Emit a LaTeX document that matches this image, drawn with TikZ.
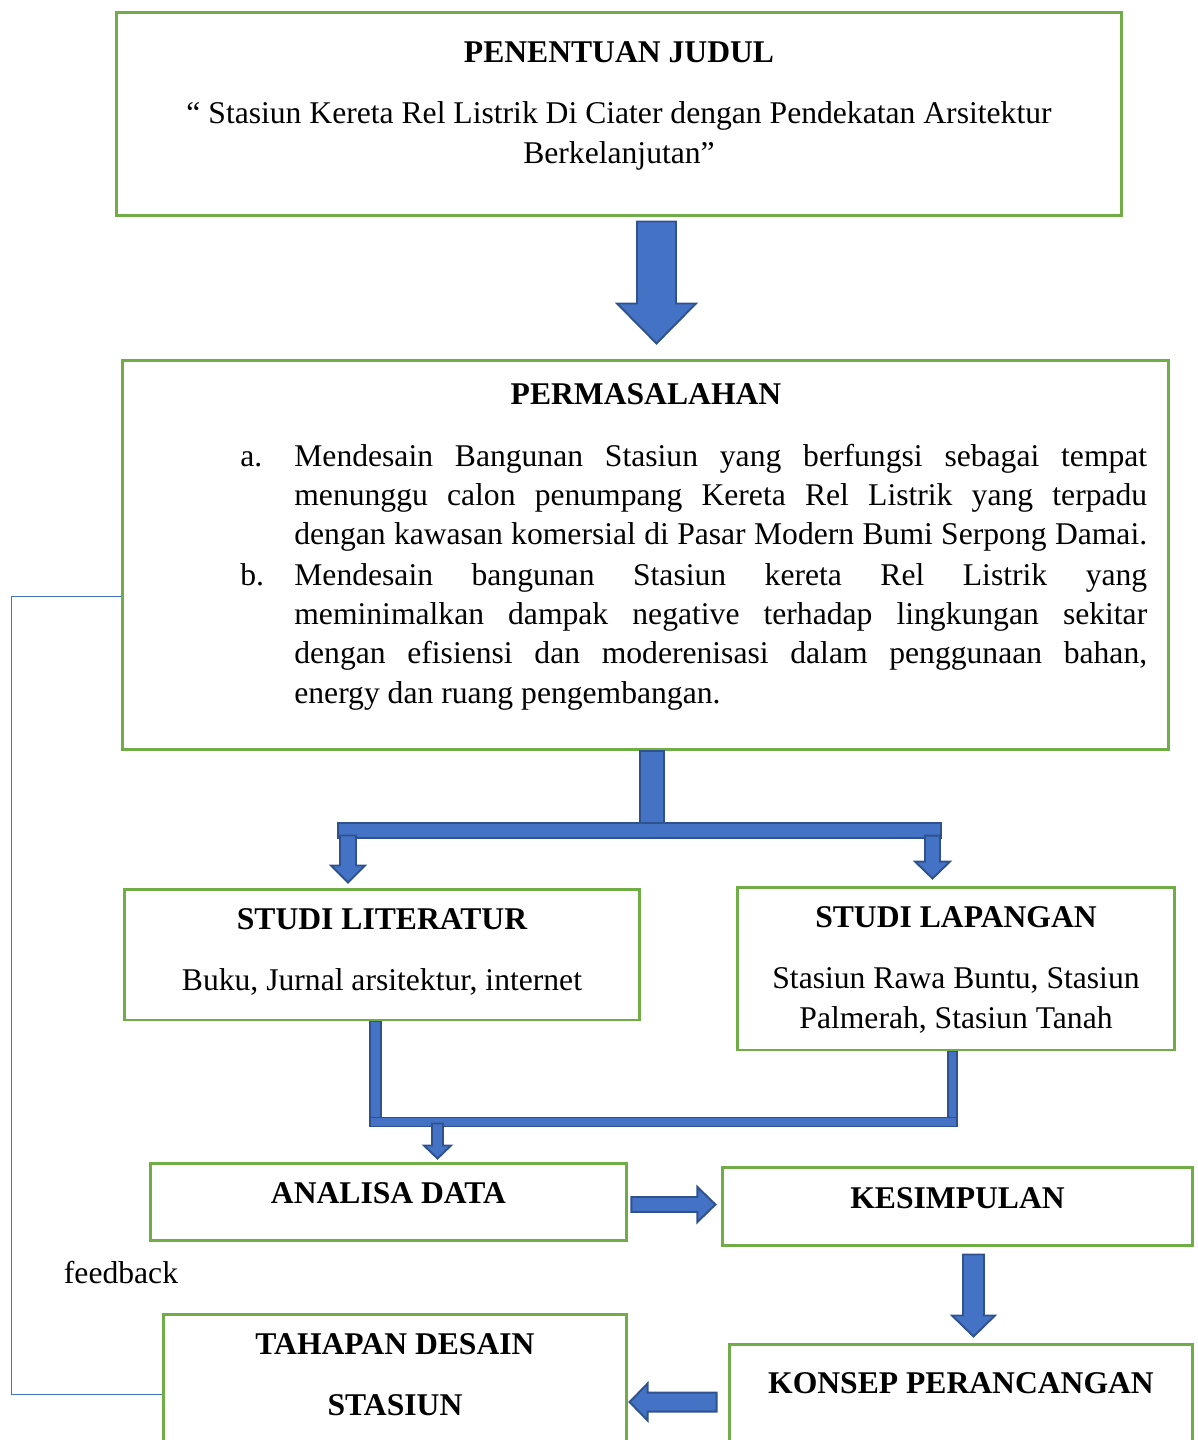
\documentclass[tikz,border=0pt]{standalone}
\usepackage{fontspec}
\setmainfont{Liberation Serif}
\usetikzlibrary{calc}

\definecolor{boxgreen}{HTML}{70AD47}
\definecolor{arrowblue}{HTML}{4472C4}
\definecolor{arrowedge}{HTML}{2F528F}

\tikzset{
  box/.style={draw=boxgreen, line width=1.7pt, rectangle, inner sep=0pt},
  heading/.style={font=\fontsize{18}{22.4}\selectfont\bfseries, inner sep=0pt},
  body/.style={font=\fontsize{18}{22.4}\selectfont, inner sep=0pt},
  blockarrow/.style={fill=arrowblue, draw=arrowedge, line width=1.1pt},
  feedbackline/.style={draw=arrowblue, line width=0.8pt}
}

\begin{document}
\begin{tikzpicture}[x=0.02cm, y=-0.02cm]
	    \useasboundingbox (0,0) rectangle (1197,1440);

	    % The boxes of the flow
	    \node [box, minimum width=20.12cm, minimum height=4.08cm] (judul) at (619,114) {};
	    \node [box, minimum width=20.94cm, minimum height=7.8cm] (masalah) at (645.5,555) {};
	    \node [box, minimum width=10.32cm, minimum height=2.62cm] (literatur) at (382,954.5) {};
	    \node [box, minimum width=8.76cm, minimum height=3.26cm] (lapangan) at (956,968.5) {};
	    \node [box, minimum width=9.54cm, minimum height=1.54cm] (analisa) at (388.5,1201.5) {};
	    \node [box, minimum width=9.42cm, minimum height=1.56cm] (kesimpulan) at (957.5,1206) {};
	    \node [box, minimum width=9.28cm, minimum height=3.92cm] (konsep) at (961,1442) {};
	    \node [box, minimum width=9.28cm, minimum height=3.92cm] (tahapan) at (395,1412) {};

	    % Texts inside the boxes (base of a two line text is its last line)
	    \node [heading, anchor=base] (judul title) at (619,62) {PENENTUAN JUDUL};
	    \node [body, anchor=base, align=center] (judul text) at (619,163)
		{“ Stasiun Kereta Rel Listrik Di Ciater dengan Pendekatan Arsitektur\\Berkelanjutan”};

	    \node [heading, anchor=base] (masalah title) at (646,404) {PERMASALAHAN};
	    \node [body, anchor=base west] (item a) at (240,466) {a.};
	    \node [body, anchor=base west, text width=17.06cm, align=justify] (text a) at (294,466)
		{\parfillskip=0pt Mendesain Bangunan Stasiun yang berfungsi sebagai tempat\linebreak
		menunggu calon penumpang Kereta Rel Listrik yang terpadu\linebreak
		dengan kawasan komersial di Pasar Modern Bumi Serpong Damai.\par};
	    \node [body, anchor=base west] (item b) at (240,585) {b.};
	    \node [body, anchor=base west, text width=17.06cm, align=justify] (text b) at (294,585)
		{Mendesain bangunan Stasiun kereta Rel Listrik yang\linebreak
		meminimalkan dampak negative terhadap lingkungan sekitar\linebreak
		dengan efisiensi dan moderenisasi dalam penggunaan bahan,\linebreak
		energy dan ruang pengembangan.};

	    \node [heading, anchor=base] (literatur title) at (382,929) {STUDI LITERATUR};
	    \node [body, anchor=base] (literatur text) at (382,990) {Buku, Jurnal arsitektur, internet};

	    \node [heading, anchor=base] (lapangan title) at (956,927) {STUDI LAPANGAN};
	    \node [body, anchor=base, align=center] (lapangan text) at (956,1028)
		{Stasiun Rawa Buntu, Stasiun\\Palmerah, Stasiun Tanah};

	    \node [heading, anchor=base] (analisa text) at (388.5,1203) {ANALISA DATA};
	    \node [heading, anchor=base] (kesimpulan text) at (957.5,1208) {KESIMPULAN};
	    \node [heading, anchor=base] (konsep text) at (961,1393) {KONSEP PERANCANGAN};
	    \node [heading, anchor=base, align=center] (tahapan text) at (395,1415)
		{TAHAPAN DESAIN\\[12.2pt]STASIUN};

	    % Big arrow from the title to the problems
	    \draw [blockarrow] ($(judul.south)+(18,4)$) -- ++(39,0) -- ++(0,82) -- ++(20,0)
		-- ++(-39.5,40) -- ++(-39.5,-40) -- ++(20,0) -- cycle;

	    % Split into the two studies
	    \draw [blockarrow] ($(masalah.south)+(-5.5,0)$) rectangle ++(24,72);
	    \draw [blockarrow] ($(masalah.south)+(-307.5,72)$) rectangle ++(603,15);
	    \draw [blockarrow] ($(literatur.north)+(-42,-52)$) -- ++(16,0) -- ++(0,30) -- ++(9,0)
		-- ++(-17,17) -- ++(-17,-17) -- ++(9,0) -- cycle;
	    \draw [blockarrow] ($(lapangan.north)+(-31,-50)$) -- ++(15,0) -- ++(0,26) -- ++(10,0)
		-- ++(-17.5,17) -- ++(-17.5,-17) -- ++(10,0) -- cycle;

	    % Join the two studies again
	    \draw [blockarrow] ($(literatur.south)+(-12,0)$) rectangle ++(11,96);
	    \draw [blockarrow] ($(lapangan.south)+(-8,0)$) rectangle ++(9,66);
	    \draw [blockarrow] ($(literatur.south)+(-12,96)$) rectangle ++(587,9);
	    \draw [blockarrow] ($(analisa.north)+(43.5,-38)$) -- ++(11,0) -- ++(0,22) -- ++(8,0)
		-- ++(-13.5,13) -- ++(-13.5,-13) -- ++(8,0) -- cycle;

	    % Analysis to conclusion to concept to design
	    \draw [blockarrow] ($(analisa.east)+(3,-4.5)$) -- ++(66,0) -- ++(0,-10) -- ++(18,17.5)
		-- ++(-18,17.5) -- ++(0,-10) -- ++(-66,0) -- cycle;
	    \draw [blockarrow] ($(kesimpulan.south)+(5.5,8)$) -- ++(21,0) -- ++(0,61) -- ++(11,0)
		-- ++(-21.5,21) -- ++(-21.5,-21) -- ++(11,0) -- cycle;
	    \draw [blockarrow] ($(konsep.north west)+(-11,50)$) -- ++(-69,0) -- ++(0,-9) -- ++(-18,18.5)
		-- ++(18,18.5) -- ++(0,-9) -- ++(69,0) -- cycle;

	    % Feedback line back to the problems
	    \coordinate (fb start) at ($(masalah.north west)+(0,238)$);
	    \coordinate (fb end) at ($(tahapan.north west)+(0,82)$);
	    \draw [feedbackline] (fb start) -- ++(-109,0) |- (fb end);
	    \node [body] (feedback) at (121,1273) {feedback};
	\end{tikzpicture}
\end{document}
